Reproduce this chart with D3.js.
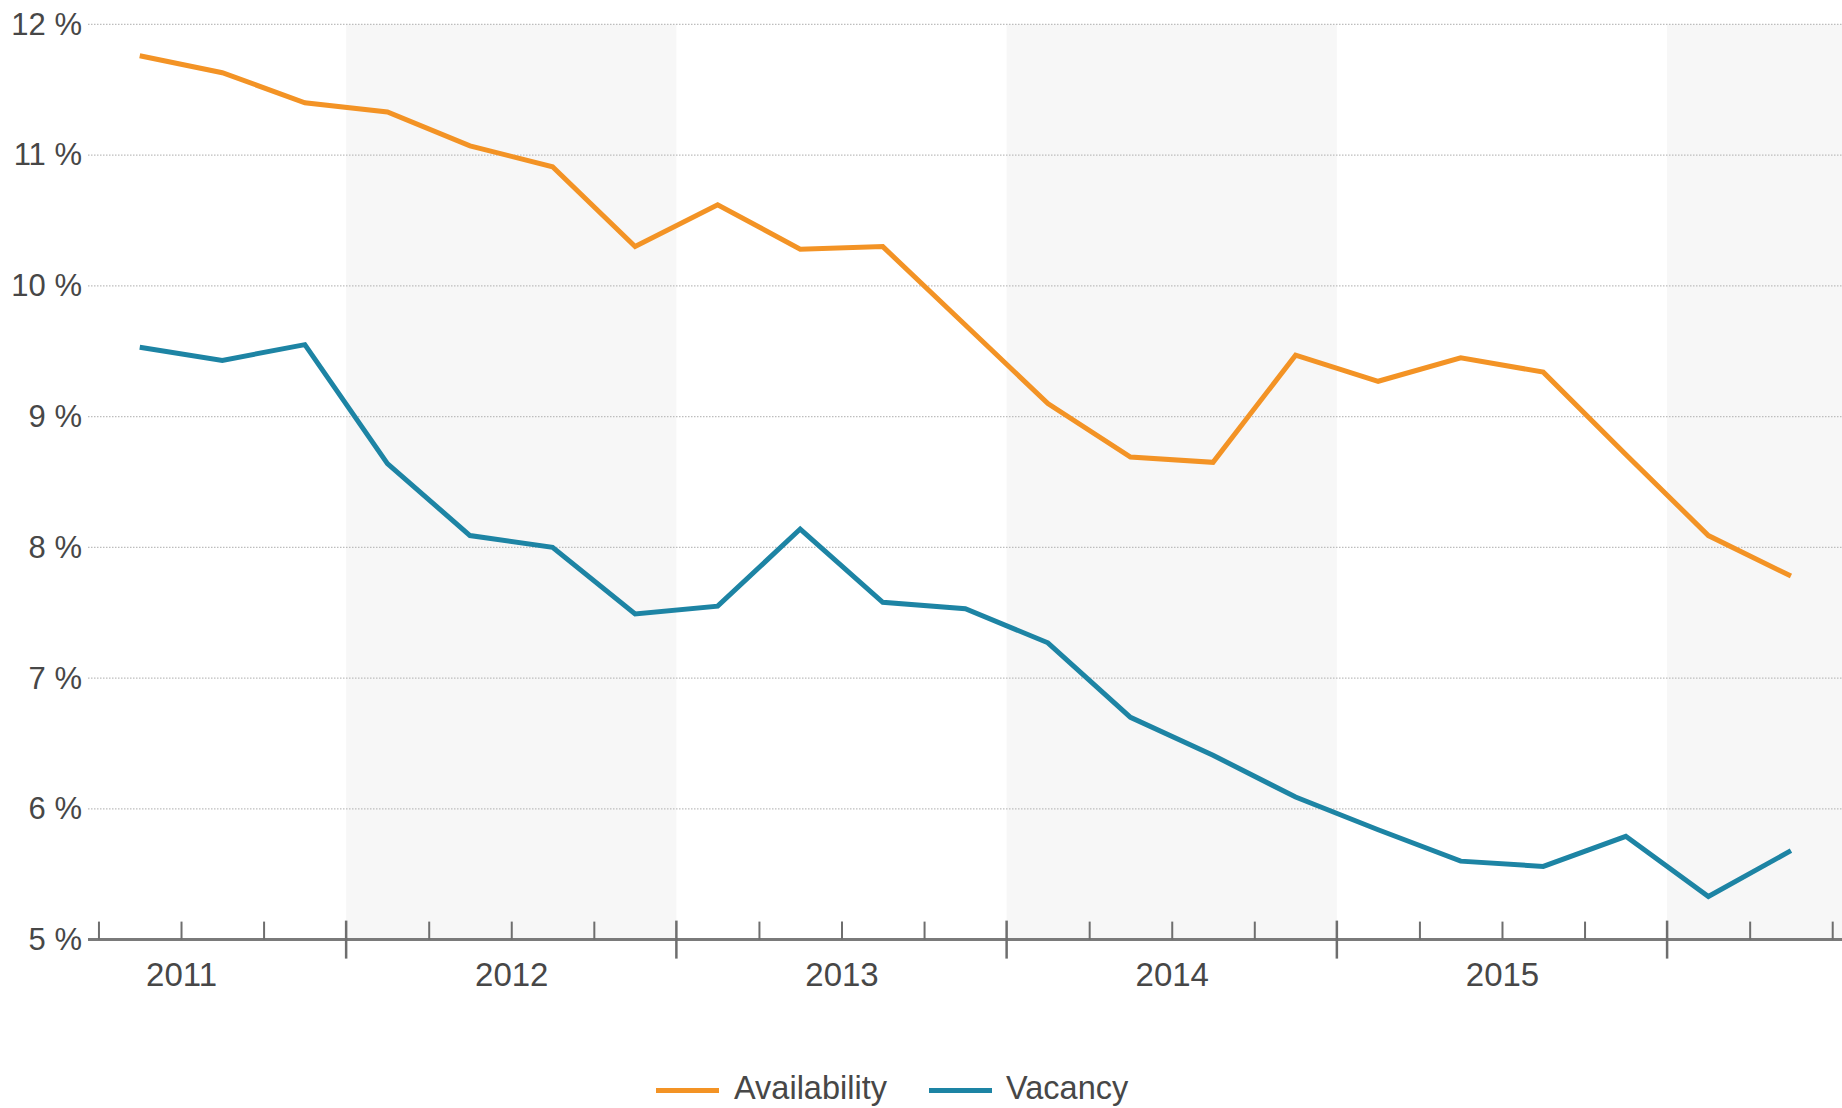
<!DOCTYPE html>
<html>
<head>
<meta charset="utf-8">
<script src="https://cdn.jsdelivr.net/npm/d3@7"></script>
<style>
  html, body { margin: 0; padding: 0; background: #fff; }
  svg { display: block; }
  text { font-family: "Liberation Sans", Arial, sans-serif; fill: #474747; }
</style>
</head>
<body>
<svg id="chart" width="1842" height="1108"></svg>
<script>
// ---- data ----
const quarters = [
  "2011 Q2","2011 Q3","2011 Q4",
  "2012 Q1","2012 Q2","2012 Q3","2012 Q4",
  "2013 Q1","2013 Q2","2013 Q3","2013 Q4",
  "2014 Q1","2014 Q2","2014 Q3","2014 Q4",
  "2015 Q1","2015 Q2","2015 Q3","2015 Q4",
  "2016 Q1","2016 Q2"
];
const availability = [
  11.76, 11.63, 11.40,
  11.33, 11.07, 10.91, 10.30,
  10.62, 10.28, 10.30, 9.70,
  9.10, 8.69, 8.65, 9.47,
  9.27, 9.45, 9.34, 8.71,
  8.09, 7.78
];
const vacancy = [
  9.53, 9.43, 9.55,
  8.64, 8.09, 8.00, 7.49,
  7.55, 8.14, 7.58, 7.53,
  7.27, 6.70, 6.41, 6.09,
  5.84, 5.60, 5.56, 5.79,
  5.33, 5.68
];
const yearLabels = ["2011", "2012", "2013", "2014", "2015"];
const yTicks = [5, 6, 7, 8, 9, 10, 11, 12];
const seriesNames = ["Availability", "Vacancy"];
const seriesColors = ["#f39325", "#1d84a4"];

// ---- helpers ----
function quarterMid(q) {
  const [yr, qq] = q.split(" Q");
  return +yr + (+qq - 1) * 0.25 + 0.125;
}

const svg = d3.select("#chart");
const W = 1842;

const x = d3.scaleLinear().domain([2011, 2016]).range([15.9, 1667.1]);
const y = d3.scaleLinear().domain([5, 12]).range([939.6, 24.3]);

const plotLeft = 88, plotRight = W;
const tStart = x.invert(plotLeft), tEnd = x.invert(plotRight);

// alternating year bands (2012, 2014, 2016)
const bandYears = [2012, 2014, 2016];
svg.append("g").selectAll("rect").data(bandYears).join("rect")
  .attr("x", d => x(d))
  .attr("width", d => Math.min(x(d + 1), plotRight) - x(d))
  .attr("y", y(12))
  .attr("height", y(5) - y(12))
  .attr("fill", "#f7f7f7");

// gridlines
svg.append("g").selectAll("line").data(yTicks.filter(d => d > 5)).join("line")
  .attr("x1", plotLeft).attr("x2", plotRight)
  .attr("y1", d => y(d)).attr("y2", d => y(d))
  .attr("stroke", "#bdbdbd").attr("stroke-width", 1.2)
  .attr("stroke-dasharray", "1.5,1.5");

// y axis labels
const yAxis = d3.axisLeft(y).tickValues(yTicks).tickFormat(d => d + " %")
  .tickSize(0).tickPadding(0);
const gy = svg.append("g").attr("transform", "translate(82,0)").call(yAxis);
gy.select(".domain").remove();
gy.selectAll("text").attr("font-size", 31).attr("fill", "#474747")
  .attr("font-family", "Liberation Sans, Arial, sans-serif");

// x axis line
svg.append("line")
  .attr("x1", plotLeft).attr("x2", plotRight)
  .attr("y1", y(5)).attr("y2", y(5))
  .attr("stroke", "#7a7a7a").attr("stroke-width", 3);

// minor (quarter) ticks
const quarterBounds = d3.range(Math.ceil(tStart * 4), Math.floor(tEnd * 4) + 1)
  .map(d => d / 4).filter(d => d % 1 !== 0);
const minorAxis = d3.axisBottom(x).tickValues(quarterBounds).tickSizeInner(-18)
  .tickSizeOuter(0).tickFormat("");
const gMinor = svg.append("g").attr("transform", `translate(0,${y(5)})`).call(minorAxis);
gMinor.select(".domain").remove();
gMinor.selectAll("line").attr("stroke", "#6e6e6e").attr("stroke-width", 2);

// major (year) ticks
const yearBounds = [2012, 2013, 2014, 2015, 2016];
svg.append("g").selectAll("line").data(yearBounds).join("line")
  .attr("x1", d => x(d)).attr("x2", d => x(d))
  .attr("y1", y(5) - 19).attr("y2", y(5) + 19)
  .attr("stroke", "#6e6e6e").attr("stroke-width", 2.5);

// year labels
const labelAxis = d3.axisBottom(x)
  .tickValues(yearLabels.map(d => +d + 0.5))
  .tickFormat(d => yearLabels[Math.floor(d) - 2011])
  .tickSize(0).tickPadding(0);
const gLab = svg.append("g").attr("transform", `translate(0,${y(5) + 23})`).call(labelAxis);
gLab.select(".domain").remove();
gLab.selectAll("text").attr("font-size", 33).attr("fill", "#474747")
  .attr("font-family", "Liberation Sans, Arial, sans-serif");

// lines
const line = d3.line().x(d => x(d.t)).y(d => y(d.v));
[availability, vacancy].forEach((vals, i) => {
  const pts = quarters.map((q, j) => ({ t: quarterMid(q), v: vals[j] }));
  svg.append("path").datum(pts)
    .attr("d", line)
    .attr("fill", "none")
    .attr("stroke", seriesColors[i])
    .attr("stroke-width", 5)
    .attr("stroke-linejoin", "miter");
});

// legend
const legendItems = [
  { x0: 656, tx: 734 },
  { x0: 929, tx: 1006 }
];
seriesNames.forEach((name, i) => {
  const g = svg.append("g");
  g.append("line")
    .attr("x1", legendItems[i].x0).attr("x2", legendItems[i].x0 + 63)
    .attr("y1", 1090.5).attr("y2", 1090.5)
    .attr("stroke", seriesColors[i]).attr("stroke-width", 5);
  g.append("text")
    .attr("x", legendItems[i].tx).attr("y", 1099)
    .attr("font-size", 32.5)
    .text(name);
});
</script>
</body>
</html>
